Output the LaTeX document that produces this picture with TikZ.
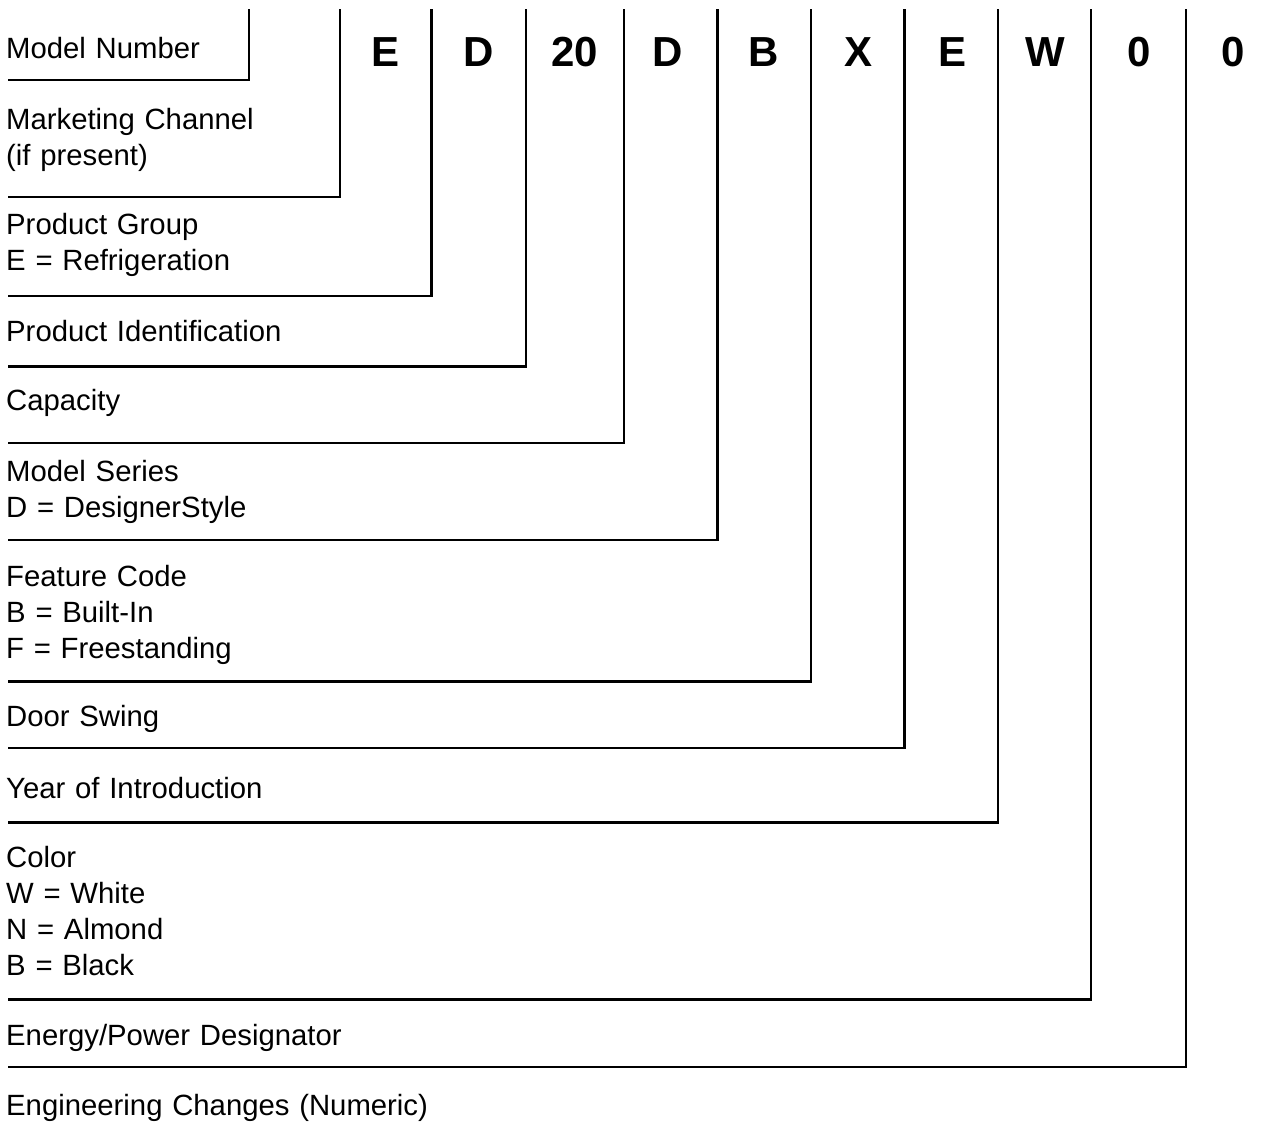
\documentclass[tikz,border=0pt]{standalone}
\usepackage{fontspec}
\setmainfont{Liberation Sans}[WordSpace=1.2]
\usepackage{tikz}
\usetikzlibrary{positioning}

\begin{document}
\begin{tikzpicture}[x=1pt, y=-1pt]
\tikzstyle{field} = [anchor=base west, inner sep=0pt, align=left, font=\fontsize{29.3}{35.7}\selectfont]
\tikzstyle{code} = [anchor=base, inner sep=0pt, font=\fontsize{42}{42}\selectfont\bfseries]
\tikzstyle{rule} = [line width=2.6pt]

\useasboundingbox (0,0) rectangle (1272,1137);

% the code letters
\node (cE1) [code] at (385.5,67) {E};
\node (cD1) [code] at (479,67) {D};
\node (c20) [code] at (574.5,67) {20};
\node (cD2) [code] at (668,67) {D};
\node (cB) [code] at (764,67) {B};
\node (cX) [code] at (858,67) {X};
\node (cE2) [code] at (952.5,67) {E};
\node (cW) [code] at (1045.5,67) {W};
\node (c01) [code] at (1139,67) {0};
\node (c02) [code] at (1233,67) {0};

% the fields (placed at the baseline of their last line)
\node (model) [field] at (6,59) {Model Number};
\node (channel) [field] at (6,165.5) {Marketing Channel\\(if present)};
\node (group) [field] at (6,270.5) {Product Group\\E = Refrigeration};
\node (ident) [field] at (6,341) {Product Identification};
\node (capacity) [field] at (6,410) {Capacity};
\node (series) [field] at (6,517) {Model Series\\D = DesignerStyle};
\node (feature) [field] at (6,658.2) {Feature Code\\B = Built-In\\F = Freestanding};
\node (door) [field] at (6,726.7) {Door Swing};
\node (year) [field] at (6,798.3) {Year of Introduction};
\node (color) [field] at (6,975) {Color\\W = White\\N = Almond\\B = Black};
\node (energy) [field] at (6,1045) {Energy/Power Designator};
\node (eng) [field] at (6,1115.7) {Engineering Changes (Numeric)};

% brackets
\coordinate (modelL) at (8,80);        \coordinate (modelT) at (249,9);
\coordinate (channelL) at (8,197);     \coordinate (channelT) at (340,9);
\coordinate (groupL) at (8,296);       \coordinate (groupT) at (431.5,9);
\coordinate (identL) at (8,366.7);     \coordinate (identT) at (526,9);
\coordinate (capacityL) at (8,443);    \coordinate (capacityT) at (624,9);
\coordinate (seriesL) at (8,540);      \coordinate (seriesT) at (717.5,9);
\coordinate (featureL) at (8,681.7);   \coordinate (featureT) at (811,9);
\coordinate (doorL) at (8,748);        \coordinate (doorT) at (904.5,9);
\coordinate (yearL) at (8,822.7);      \coordinate (yearT) at (998,9);
\coordinate (colorL) at (8,999.5);     \coordinate (colorT) at (1091,9);
\coordinate (energyL) at (8,1067);     \coordinate (energyT) at (1186,9);

\draw [rule] (modelL) -| (modelT);
\draw [rule] (channelL) -| (channelT);
\draw [rule] (groupL) -| (groupT);
\draw [rule] (identL) -| (identT);
\draw [rule] (capacityL) -| (capacityT);
\draw [rule] (seriesL) -| (seriesT);
\draw [rule] (featureL) -| (featureT);
\draw [rule] (doorL) -| (doorT);
\draw [rule] (yearL) -| (yearT);
\draw [rule] (colorL) -| (colorT);
\draw [rule] (energyL) -| (energyT);
\end{tikzpicture}
\end{document}
